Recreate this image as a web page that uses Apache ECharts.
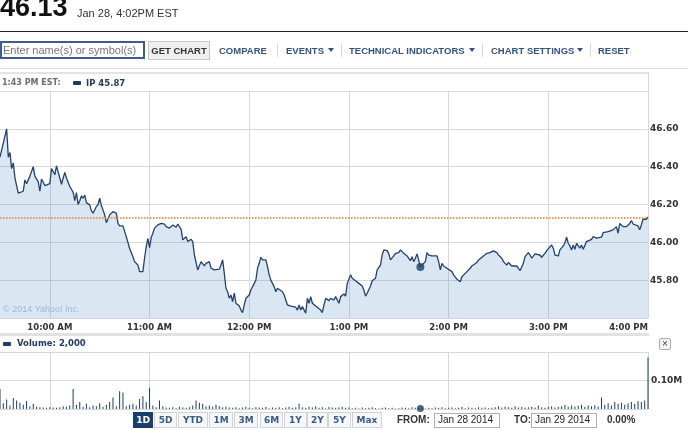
<!DOCTYPE html>
<html><head><meta charset="utf-8">
<script src="https://cdn.jsdelivr.net/npm/echarts@6/dist/echarts.min.js"></script>
<style>
body{margin:0;width:688px;height:430px;overflow:hidden;background:#fff;font-family:"Liberation Sans",Arial,sans-serif;}
#chart{position:absolute;left:0;top:0;width:688px;height:430px;}
.a{position:absolute;white-space:nowrap;line-height:1;}
.lnk{font-weight:bold;font-size:9.5px;color:#34527f;}
.sep{position:absolute;width:1px;background:#d8d8d8;top:43px;height:14px;}
.tri{position:absolute;width:0;height:0;border-left:3px solid transparent;border-right:3px solid transparent;border-top:4px solid #34527f;top:48px;}
.btn{position:absolute;top:412px;height:16px;box-sizing:border-box;border:1px solid #cfd4da;background:#f6f7f9;font-family:"DejaVu Sans",sans-serif;font-weight:bold;font-size:9px;color:#3b5a87;text-align:center;line-height:14px;}
.inp{position:absolute;box-sizing:border-box;border:1px solid #b0b0b0;background:#fff;font-size:10px;color:#222;line-height:12px;padding-left:3px;}
.lg{font-family:"DejaVu Sans",sans-serif;font-weight:bold;font-size:8.5px;}
</style></head><body>
<div id="chart"></div>

<div class="a" style="left:0;top:-6px;font-size:27px;font-weight:bold;color:#111;">46.13</div>
<div class="a" style="left:77px;top:8px;font-size:11px;color:#333;">Jan 28, 4:02PM EST</div>
<div class="a" style="left:0;top:31px;width:688px;height:1px;background:#222;"></div>

<div class="a" style="left:0;top:41px;width:145px;height:18px;box-sizing:border-box;border:2px solid #3d5c8c;font-size:11px;color:#777;line-height:14px;padding-left:1px;">Enter name(s) or symbol(s)</div>
<div class="a" style="left:148px;top:41px;width:62px;height:19px;box-sizing:border-box;border:1px solid #c8c8c8;background:#efefef;font-size:9.5px;font-weight:bold;color:#333;text-align:center;line-height:17px;">GET CHART</div>
<div class="a lnk" style="left:219px;top:45.5px;">COMPARE</div>
<div class="sep" style="left:277px;"></div>
<div class="a lnk" style="left:286px;top:45.5px;">EVENTS</div>
<div class="tri" style="left:328px;"></div>
<div class="sep" style="left:341px;"></div>
<div class="a lnk" style="left:349px;top:45.5px;">TECHNICAL INDICATORS</div>
<div class="tri" style="left:469px;"></div>
<div class="sep" style="left:482px;"></div>
<div class="a lnk" style="left:491px;top:45.5px;">CHART SETTINGS</div>
<div class="tri" style="left:577px;"></div>
<div class="sep" style="left:590px;"></div>
<div class="a lnk" style="left:598px;top:45.5px;">RESET</div>
<div class="a" style="left:0;top:68px;width:688px;height:1px;background:#dcdcdc;"></div>

<div class="a" style="left:0;top:72px;width:649px;height:2px;background:#e2e4e7;"></div>
<div class="a" style="left:648px;top:72px;width:1px;height:20px;background:#d5d9de;"></div>
<div class="a lg" style="left:2px;top:79px;color:#6d6d6d;font-size:8px;">1:43 PM EST:</div>
<div class="a" style="left:73px;top:81px;width:8px;height:4px;background:#1d3d64;border-radius:1px;"></div>
<div class="a lg" style="left:86px;top:79px;color:#1d3d64;">IP 45.87</div>

<div class="a" style="left:0;top:333px;width:649px;height:3px;background:#dfe1e4;"></div>
<div class="a" style="left:3px;top:342px;width:8px;height:4px;background:#1d3d64;border-radius:1px;"></div>
<div class="a lg" style="left:17px;top:339px;color:#1d3d64;">Volume: 2,000</div>
<div class="a" style="left:659px;top:338px;width:12px;height:12px;box-sizing:border-box;border:1px solid #aaa;border-radius:2px;background:#f4f4f4;font-size:10px;line-height:9px;text-align:center;color:#444;">×</div>

<div class="btn" style="left:133px;width:20px;background:#1b3d6d;border-color:#1b3d6d;color:#fff;">1D</div>
<div class="btn" style="left:154px;width:23px;">5D</div>
<div class="btn" style="left:178px;width:30px;">YTD</div>
<div class="btn" style="left:209px;width:24px;">1M</div>
<div class="btn" style="left:234px;width:24px;">3M</div>
<div class="btn" style="left:260px;width:23px;">6M</div>
<div class="btn" style="left:284px;width:23px;">1Y</div>
<div class="btn" style="left:307px;width:21px;">2Y</div>
<div class="btn" style="left:328px;width:23px;">5Y</div>
<div class="btn" style="left:352px;width:30px;">Max</div>
<div class="a" style="left:397px;top:415px;font-size:10px;font-weight:bold;color:#333;">FROM:</div>
<div class="inp" style="left:434px;top:413px;width:66px;height:15px;">Jan 28 2014</div>
<div class="a" style="left:514px;top:415px;font-size:10px;font-weight:bold;color:#333;">TO:</div>
<div class="inp" style="left:531px;top:413px;width:66px;height:15px;">Jan 29 2014</div>
<div class="a" style="left:607px;top:415px;font-size:10px;font-weight:bold;color:#333;">0.00%</div>

<script>
// minutes after 9:30 AM
const timeTickMinutes = [30, 90, 150, 210, 270, 330, 390];
const timeTickLabels = ['10:00 AM', '11:00 AM', '12:00 PM', '1:00 PM', '2:00 PM', '3:00 PM', '4:00 PM'];
const previousClose = 46.13;
const hoverPoint = [253, 45.87];
const hoverVolume = [253, 2000];
const price = [[0,46.45],[4,46.60],[5,46.45],[6,46.475],[7,46.39],[8,46.42],[9,46.34],[11,46.26],[12,46.25],[14,46.27],[15,46.33],[16,46.31],[17,46.30],[18,46.35],[20,46.40],[21,46.35],[22,46.36],[23,46.32],[24,46.27],[25,46.335],[27,46.30],[28,46.295],[30,46.31],[31,46.39],[33,46.357],[34,46.404],[35,46.406],[37,46.307],[39,46.37],[40,46.34],[42,46.295],[44,46.265],[45,46.22],[46,46.263],[47,46.20],[48,46.22],[49,46.245],[50,46.233],[51,46.25],[52,46.21],[54,46.198],[55,46.166],[56,46.154],[58,46.189],[59,46.20],[60,46.233],[61,46.194],[62,46.171],[63,46.145],[64,46.104],[65,46.097],[66,46.145],[68,46.162],[69,46.166],[70,46.154],[71,46.10],[72,46.087],[74,46.087],[75,46.096],[76,46.03],[78,45.969],[79,45.972],[80,45.924],[81,45.898],[82,45.898],[83,45.88],[84,45.845],[86,45.845],[87,45.916],[88,45.977],[89,46.02],[90,45.972],[91,46.025],[92,46.048],[93,46.075],[94,46.066],[95,46.092],[97,46.10],[99,46.096],[100,46.083],[102,46.075],[104,46.092],[106,46.08],[107,46.097],[109,46.069],[110,46.013],[112,46.03],[113,46.004],[115,46.016],[116,46.004],[117,45.933],[119,45.854],[120,45.845],[121,45.898],[123,45.875],[124,45.889],[125,45.88],[126,45.898],[127,45.863],[129,45.854],[130,45.845],[132,45.858],[133,45.88],[134,45.907],[135,45.836],[136,45.757],[137,45.739],[138,45.704],[139,45.722],[140,45.686],[141,45.731],[142,45.678],[144,45.663],[145,45.642],[146,45.628],[147,45.669],[148,45.704],[150,45.722],[151,45.748],[152,45.757],[154,45.80],[155,45.863],[156,45.889],[157,45.921],[158,45.907],[160,45.907],[161,45.871],[162,45.828],[163,45.80],[164,45.792],[165,45.766],[166,45.739],[167,45.757],[168,45.766],[170,45.739],[171,45.722],[172,45.695],[173,45.669],[175,45.663],[176,45.669],[178,45.657],[179,45.642],[180,45.669],[181,45.642],[182,45.66],[184,45.625],[185,45.704],[186,45.678],[187,45.713],[188,45.678],[190,45.663],[191,45.657],[193,45.642],[194,45.628],[195,45.669],[196,45.704],[198,45.692],[199,45.704],[201,45.695],[202,45.713],[204,45.678],[205,45.713],[207,45.727],[208,45.716],[209,45.783],[211,45.828],[212,45.81],[214,45.797],[216,45.783],[218,45.769],[219,45.748],[220,45.716],[221,45.731],[223,45.769],[224,45.797],[226,45.81],[227,45.854],[229,45.88],[230,45.933],[231,45.96],[233,45.956],[234,45.939],[235,45.907],[237,45.928],[238,45.942],[240,45.946],[241,45.96],[242,45.965],[243,45.942],[245,45.928],[246,45.933],[247,45.903],[248,45.924],[249,45.898],[250,45.916],[251,45.939],[253,45.87],[256,45.898],[257,45.946],[258,45.933],[260,45.928],[261,45.924],[263,45.928],[264,45.898],[265,45.854],[266,45.889],[267,45.875],[269,45.863],[270,45.854],[272,45.845],[273,45.828],[275,45.805],[276,45.797],[277,45.792],[278,45.818],[280,45.836],[281,45.84],[283,45.863],[284,45.875],[285,45.868],[287,45.893],[288,45.907],[289,45.915],[291,45.928],[292,45.924],[293,45.942],[295,45.946],[297,45.955],[299,45.946],[300,45.933],[302,45.916],[303,45.898],[305,45.88],[306,45.893],[308,45.875],[309,45.868],[311,45.875],[312,45.863],[313,45.85],[315,45.889],[316,45.924],[318,45.946],[319,45.933],[320,45.916],[322,45.939],[323,45.946],[325,45.933],[326,45.921],[328,45.942],[329,45.956],[330,45.946],[332,45.986],[333,45.969],[334,45.933],[336,45.928],[337,45.96],[339,45.981],[340,45.998],[341,46.027],[342,45.995],[343,45.981],[344,45.96],[345,45.986],[346,45.963],[347,45.995],[349,45.969],[350,45.986],[351,45.963],[353,46.004],[354,46.009],[356,46.016],[357,46.03],[359,46.022],[360,46.03],[362,46.027],[363,46.051],[364,46.044],[366,46.057],[367,46.051],[369,46.066],[370,46.057],[371,46.083],[372,46.048],[373,46.10],[375,46.083],[376,46.092],[377,46.083],[379,46.10],[380,46.115],[381,46.097],[382,46.104],[384,46.087],[385,46.066],[386,46.092],[387,46.122],[389,46.122],[390,46.133]];
// volume in thousands of shares, one bar per 2 minutes
const volumeStep = 2;
const volumeK = [70,20,33,12,39,30,22,15,28,
10,18,8,6,5,4,6,
5,4,6,10,8,12,
70,15,25,
8,18,6,12,10,20,8,15,25,
40,10,62,58,
10,15,18,12,35,45,25,
75,12,6,30,
10,5,4,6,3,8,5,4,6,
12,30,22,18,10,12,8,15,10,6,8,5,
4,6,3,5,8,4,3,6,5,4,7,3,5,4,6,3,5,8,4,6,18,
6,4,8,5,10,4,6,3,7,5,4,6,8,4,5,
3,4,2,5,3,4,6,3,2,4,5,3,4,2,3,5,4,3,6,4,3,5,2,4,3,5,4,6,3,4,5,3,4,8,3,5,4,3,6,4,5,3,4,6,10,
5,8,6,4,10,5,7,4,6,8,5,12,6,4,7,10,5,8,
10,14,8,12,9,11,15,8,12,10,13,9,
40,15,20,12,25,18,22,15,20,25,18,28,25,30,182];

const volumeData = volumeK.map((v, i) => [i * volumeStep, v * 1000]);
const gridColor = '#d5d9de';
const navy = '#1d3d64';
const axisFont = { fontFamily: 'DejaVu Sans', fontWeight: 'bold', color: '#333' };

const chart = echarts.init(document.getElementById('chart'), null, { renderer: 'canvas' });
chart.setOption({
  animation: false,
  grid: [
    { left: 0, top: 91, width: 648, height: 227 },
    { left: 0, top: 352, width: 648, height: 57 }
  ],
  xAxis: [
    {
      type: 'value', gridIndex: 0, min: 0, max: 390,
      axisLine: { show: false },
      axisTick: { show: false, customValues: timeTickMinutes },
      axisLabel: Object.assign({
        customValues: timeTickMinutes, fontSize: 8.5, margin: 5, alignMaxLabel: 'right',
        formatter: v => timeTickLabels[timeTickMinutes.indexOf(v)] || ''
      }, axisFont),
      splitLine: { show: true, lineStyle: { color: gridColor, width: 1 } }
    },
    {
      type: 'value', gridIndex: 1, min: 0, max: 390,
      axisLine: { show: false },
      axisTick: { show: false, customValues: timeTickMinutes },
      axisLabel: { show: false, customValues: timeTickMinutes },
      splitLine: { show: true, lineStyle: { color: gridColor, width: 1 } }
    }
  ],
  yAxis: [
    {
      type: 'value', gridIndex: 0, position: 'right', min: 45.6, max: 46.8, interval: 0.2,
      axisLine: { show: false }, axisTick: { show: false },
      axisLabel: Object.assign({ fontSize: 9, margin: 2, showMinLabel: false, showMaxLabel: false,
        formatter: v => v.toFixed(2) }, axisFont),
      splitLine: { lineStyle: { color: gridColor, width: 1 } }
    },
    {
      type: 'value', gridIndex: 1, position: 'right', min: 0, max: 200000, interval: 100000,
      axisLine: { show: false }, axisTick: { show: false },
      axisLabel: Object.assign({ fontSize: 9, margin: 3, showMinLabel: false, showMaxLabel: false,
        formatter: v => (v / 1e6).toFixed(2) + 'M' }, axisFont),
      splitLine: { lineStyle: { color: gridColor, width: 1 } }
    }
  ],
  graphic: [
    { type: 'text', left: 3, top: 305, silent: true,
      style: { text: '© 2014 Yahoo! Inc.', fill: '#b4c7da', font: '9px "Liberation Sans", Arial' } }
  ],
  series: [
    {
      type: 'line', xAxisIndex: 0, yAxisIndex: 0, data: price, showSymbol: false, symbol: 'none',
      lineStyle: { color: '#22426a', width: 1.3 },
      areaStyle: { color: 'rgba(60,130,190,0.27)', origin: 'start' },
      markLine: {
        silent: true, symbol: 'none', label: { show: false },
        lineStyle: { type: [1.5, 1.5], color: '#f07a28', width: 1.5, opacity: 1 },
        data: [{ yAxis: previousClose }]
      },
      z: 3
    },
    {
      type: 'scatter', xAxisIndex: 0, yAxisIndex: 0, data: [hoverPoint],
      symbolSize: 8, itemStyle: { color: navy }, z: 5
    },
    {
      type: 'bar', xAxisIndex: 1, yAxisIndex: 1, data: volumeData, barWidth: 1,
      itemStyle: { color: navy }
    },
    {
      type: 'scatter', xAxisIndex: 1, yAxisIndex: 1, data: [hoverVolume],
      symbolSize: 7, itemStyle: { color: navy }, z: 5
    }
  ]
});
</script>
</body></html>
